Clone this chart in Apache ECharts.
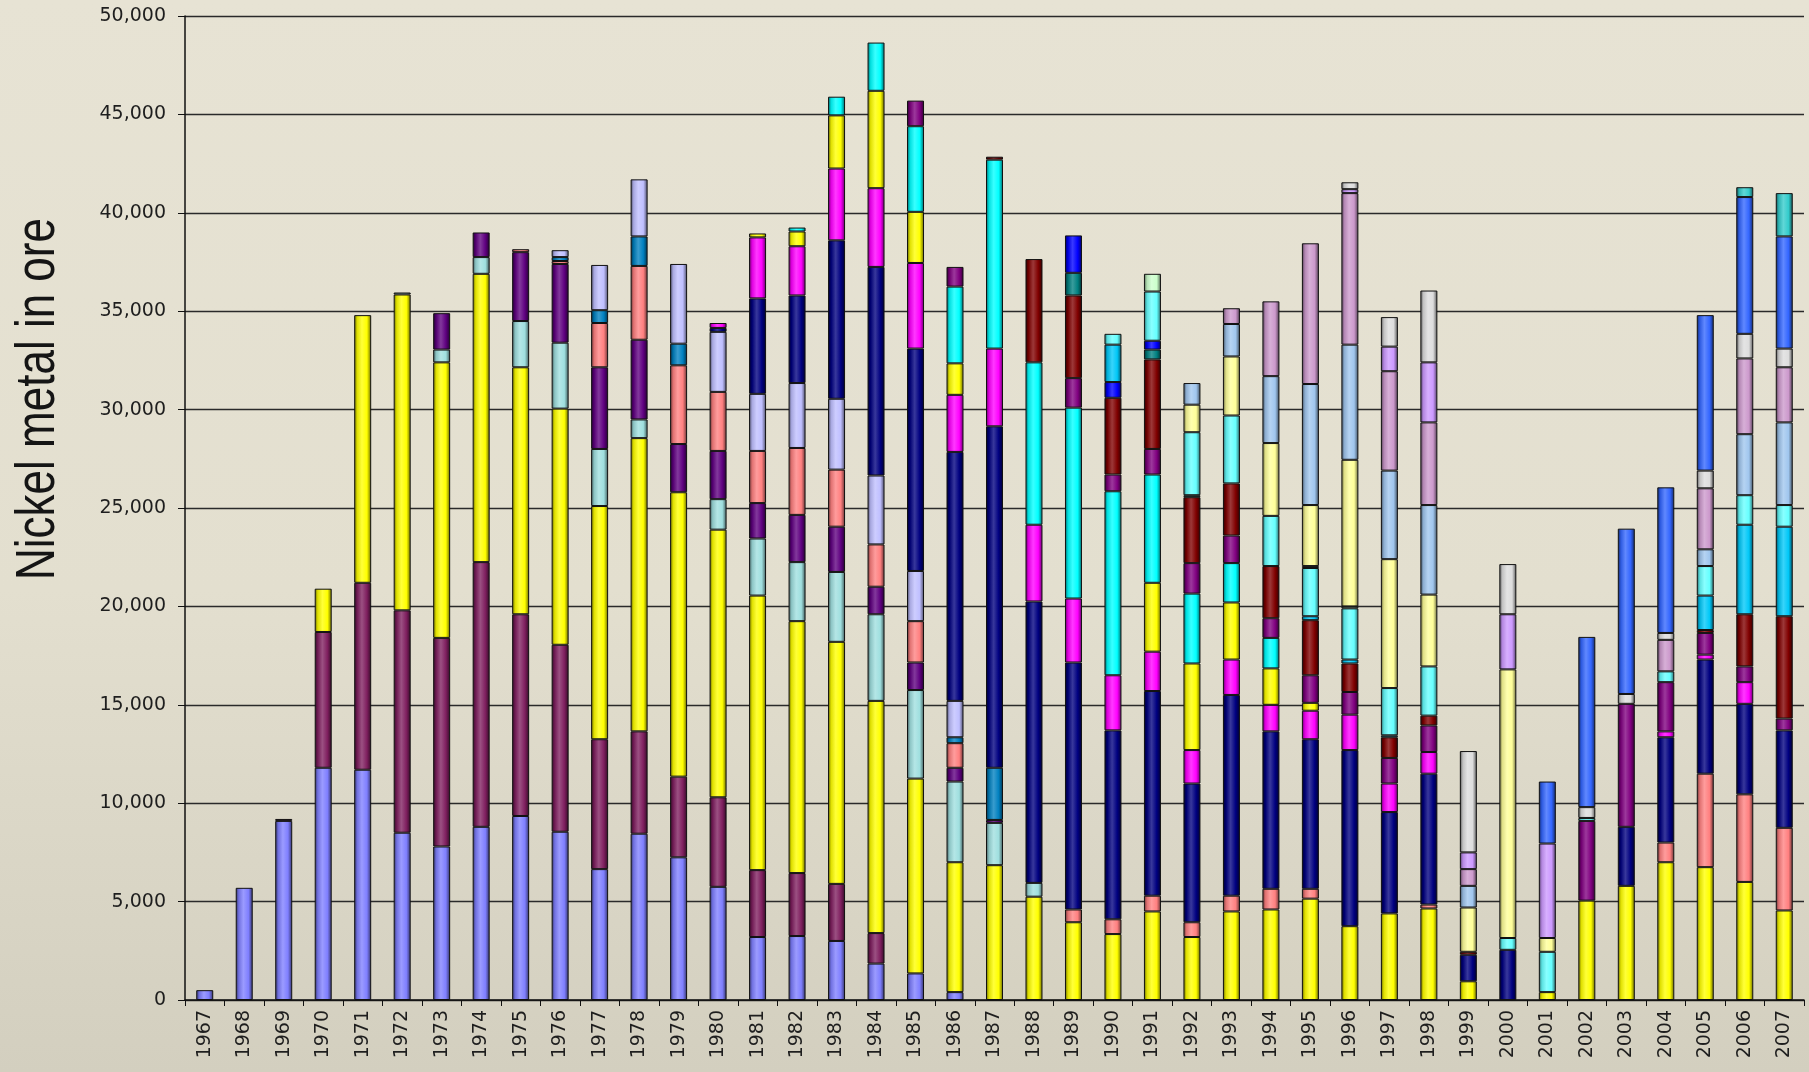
<!DOCTYPE html>
<html>
<head>
<meta charset="utf-8">
<script src="https://cdn.jsdelivr.net/npm/echarts@6/dist/echarts.min.js"></script>
<style>
  html, body { margin: 0; padding: 0; }
  #main {
    width: 1809px;
    height: 1072px;
    background: linear-gradient(to bottom, #e7e3d4 0%, #e3dfcf 55%, #d3cfbf 100%);
  }
</style>
</head>
<body>
<div id="main"></div>
<script>
const years = ['1967', '1968', '1969', '1970', '1971', '1972', '1973', '1974', '1975', '1976',
  '1977', '1978', '1979', '1980', '1981', '1982', '1983', '1984', '1985', '1986',
  '1987', '1988', '1989', '1990', '1991', '1992', '1993', '1994', '1995', '1996',
  '1997', '1998', '1999', '2000', '2001', '2002', '2003', '2004', '2005', '2006',
  '2007']

// stacked layers, bottom to top (one value per year)
const periwinkle = [500, 5700, 9100, 11800, 11700, 8500, 7800, 8800, 9350, 8550,
  6650, 8450, 7250, 5750, 3200, 3250, 3000, 1850, 1350, 400,
  0, 0, 0, 0, 0, 0, 0, 0, 0, 0,
  0, 0, 0, 0, 0, 0, 0, 0, 0, 0,
  0]
const plum = [0, 0, 100, 6900, 9500, 11300, 10600, 13450, 10250, 9500,
  6600, 5200, 4100, 4550, 3400, 3200, 2900, 1550, 0, 0,
  0, 0, 0, 0, 0, 0, 0, 0, 0, 0,
  0, 0, 0, 0, 0, 0, 0, 0, 0, 0,
  0]
const yellow = [0, 0, 0, 2200, 13600, 16050, 14000, 14650, 12550, 12000,
  11850, 14900, 14450, 13600, 13950, 12800, 12300, 11800, 9900, 6600,
  6850, 5250, 3950, 3350, 4500, 3200, 4500, 4600, 5150, 3750,
  4400, 4650, 950, 0, 400, 5050, 5800, 7000, 6750, 6000,
  4550]
const paleTeal = [0, 0, 0, 0, 0, 100, 650, 850, 2350, 3350,
  2900, 950, 0, 1550, 2900, 3000, 3550, 4400, 4500, 4100,
  2150, 700, 0, 0, 0, 0, 0, 0, 0, 0,
  0, 0, 0, 0, 0, 0, 0, 0, 0, 0,
  0]
const darkViolet = [0, 0, 0, 0, 0, 0, 1850, 1250, 3500, 4000,
  4150, 4050, 2450, 2450, 1800, 2400, 2300, 1400, 1400, 700,
  150, 0, 0, 0, 0, 0, 0, 0, 0, 0,
  0, 0, 0, 0, 0, 0, 0, 0, 0, 0,
  0]
const salmon = [0, 0, 0, 0, 0, 0, 0, 0, 150, 150,
  2250, 3750, 4000, 3000, 2650, 3400, 2900, 2150, 2100, 1250,
  0, 0, 650, 750, 800, 750, 800, 1050, 500, 0,
  0, 200, 0, 0, 0, 0, 0, 1000, 4750, 4450,
  4200]
const steel = [0, 0, 0, 0, 0, 0, 0, 0, 0, 200,
  650, 1500, 1100, 0, 0, 0, 0, 0, 0, 300,
  2650, 0, 0, 0, 0, 0, 0, 0, 0, 0,
  0, 0, 0, 0, 0, 0, 0, 0, 0, 0,
  0]
const lavender = [0, 0, 0, 0, 0, 0, 0, 0, 0, 350,
  2300, 2900, 4050, 3050, 2900, 3300, 3600, 3500, 2550, 1850,
  0, 0, 0, 0, 0, 0, 0, 0, 0, 0,
  0, 0, 0, 0, 0, 0, 0, 0, 0, 0,
  0]
const navy = [0, 0, 0, 0, 0, 0, 0, 0, 0, 0,
  0, 0, 0, 200, 4850, 4450, 8050, 10600, 11300, 12650,
  17350, 14300, 12550, 9600, 10400, 7050, 10200, 8000, 7600, 8950,
  5150, 6650, 1350, 2550, 0, 0, 3000, 5350, 5800, 4600,
  4950]
const magenta = [0, 0, 0, 0, 0, 0, 0, 0, 0, 0,
  0, 0, 0, 250, 3100, 2500, 3650, 4000, 4350, 2900,
  3950, 3900, 3250, 2800, 2000, 1700, 1800, 1350, 1450, 1800,
  1450, 1100, 0, 0, 0, 0, 0, 300, 250, 1100,
  0]
const yellow2 = [0, 0, 0, 0, 0, 0, 0, 0, 0, 0,
  0, 0, 0, 0, 200, 750, 2700, 4950, 2600, 1600,
  0, 0, 0, 0, 3500, 4400, 2900, 1850, 400, 0,
  0, 0, 0, 0, 0, 0, 0, 0, 0, 0,
  0]
const cyan = [0, 0, 0, 0, 0, 0, 0, 0, 0, 0,
  0, 0, 0, 0, 0, 200, 950, 2450, 4350, 3900,
  9600, 8250, 9700, 9350, 5500, 3550, 2000, 1550, 0, 0,
  0, 0, 0, 0, 0, 0, 0, 0, 0, 0,
  0]
const purple = [0, 0, 0, 0, 0, 0, 0, 0, 0, 0,
  0, 0, 0, 0, 0, 0, 0, 0, 1300, 1000,
  0, 0, 1500, 850, 1300, 1550, 1400, 1000, 1400, 1150,
  1300, 1350, 0, 0, 0, 4050, 6250, 2500, 1100, 800,
  600]
const maroon = [0, 0, 0, 0, 0, 0, 0, 0, 0, 0,
  0, 0, 0, 0, 0, 0, 0, 0, 0, 0,
  150, 5250, 4200, 3900, 4550, 3350, 2650, 2650, 2800, 1450,
  1050, 500, 150, 0, 0, 0, 0, 0, 150, 2650,
  5200]
const teal = [0, 0, 0, 0, 0, 0, 0, 0, 0, 0,
  0, 0, 0, 0, 0, 0, 0, 0, 0, 0,
  0, 0, 1150, 0, 500, 100, 0, 0, 0, 0,
  0, 0, 0, 0, 0, 0, 0, 0, 0, 0,
  0]
const blue = [0, 0, 0, 0, 0, 0, 0, 0, 0, 0,
  0, 0, 0, 0, 0, 0, 0, 0, 0, 0,
  0, 0, 1900, 800, 450, 0, 0, 0, 0, 0,
  0, 0, 0, 0, 0, 0, 0, 0, 0, 0,
  0]
const sky = [0, 0, 0, 0, 0, 0, 0, 0, 0, 0,
  0, 0, 0, 0, 0, 0, 0, 0, 0, 0,
  0, 0, 0, 1900, 0, 0, 0, 0, 200, 200,
  100, 0, 0, 0, 0, 0, 0, 0, 1750, 4550,
  4550]
const lightCyan = [0, 0, 0, 0, 0, 0, 0, 0, 0, 0,
  0, 0, 0, 0, 0, 0, 0, 0, 0, 0,
  0, 0, 0, 550, 2500, 3200, 3450, 2550, 2450, 2600,
  2400, 2500, 0, 600, 2050, 150, 0, 550, 1500, 1500,
  1100]
const paleGreen = [0, 0, 0, 0, 0, 0, 0, 0, 0, 0,
  0, 0, 0, 0, 0, 0, 0, 0, 0, 0,
  0, 0, 0, 0, 900, 0, 0, 0, 100, 100,
  0, 0, 0, 0, 0, 0, 0, 0, 0, 0,
  0]
const paleYellow = [0, 0, 0, 0, 0, 0, 0, 0, 0, 0,
  0, 0, 0, 0, 0, 0, 0, 0, 0, 0,
  0, 0, 0, 0, 0, 1400, 3000, 3700, 3100, 7450,
  6550, 3650, 2250, 13650, 700, 0, 0, 0, 0, 0,
  0]
const lightSteel = [0, 0, 0, 0, 0, 0, 0, 0, 0, 0,
  0, 0, 0, 0, 0, 0, 0, 0, 0, 0,
  0, 0, 0, 0, 0, 1100, 1650, 3400, 6150, 5850,
  4500, 4550, 1100, 0, 0, 0, 0, 0, 850, 3100,
  4200]
const mauve = [0, 0, 0, 0, 0, 0, 0, 0, 0, 0,
  0, 0, 0, 0, 0, 0, 0, 0, 0, 0,
  0, 0, 0, 0, 0, 0, 800, 3800, 7150, 7700,
  5050, 4200, 850, 0, 0, 0, 0, 1600, 3100, 3850,
  2800]
const lilac = [0, 0, 0, 0, 0, 0, 0, 0, 0, 0,
  0, 0, 0, 0, 0, 0, 0, 0, 0, 0,
  0, 0, 0, 0, 0, 0, 0, 0, 0, 200,
  1250, 3050, 850, 2800, 4800, 0, 0, 0, 0, 0,
  0]
const silver = [0, 0, 0, 0, 0, 0, 0, 0, 0, 0,
  0, 0, 0, 0, 0, 0, 0, 0, 0, 0,
  0, 0, 0, 0, 0, 0, 0, 0, 0, 350,
  1500, 3650, 5150, 2550, 0, 550, 500, 350, 900, 1250,
  950]
const royal = [0, 0, 0, 0, 0, 0, 0, 0, 0, 0,
  0, 0, 0, 0, 0, 0, 0, 0, 0, 0,
  0, 0, 0, 0, 0, 0, 0, 0, 0, 0,
  0, 0, 0, 0, 3150, 8650, 8400, 7400, 7900, 6950,
  5700]
const turquoise = [0, 0, 0, 0, 0, 0, 0, 0, 0, 0,
  0, 0, 0, 0, 0, 0, 0, 0, 0, 0,
  0, 0, 0, 0, 0, 0, 0, 0, 0, 0,
  0, 0, 0, 0, 0, 0, 0, 0, 0, 500,
  2200]

const layers = [
  [periwinkle, '#7f7fff'], [plum, '#7f1f5f'], [yellow, '#ffff00'], [paleTeal, '#9fdfdf'],
  [darkViolet, '#5f0080'], [salmon, '#ff8080'], [steel, '#0080c0'], [lavender, '#bfbfff'],
  [navy, '#000080'], [magenta, '#ff00ff'], [yellow2, '#ffff00'], [cyan, '#00ffff'],
  [purple, '#800080'], [maroon, '#800000'], [teal, '#008080'], [blue, '#0000ff'],
  [sky, '#00c8f8'], [lightCyan, '#66ffff'], [paleGreen, '#ccffcc'], [paleYellow, '#ffff99'],
  [lightSteel, '#a0c6ee'], [mauve, '#cc99cc'], [lilac, '#cc99ff'], [silver, '#dddddd'],
  [royal, '#3366ff'], [turquoise, '#33cccc'],
]

function rgb (hex) {
  return [1, 3, 5].map(i => parseInt(hex.substr(i, 2), 16))
}
function mix (hex, target, t) {
  let c = rgb(hex)
  let out = c.map(v => Math.round(v + (target - v) * t))
  return 'rgb(' + out.join(',') + ')'
}
// cylinder-like shading across each bar
function shaded (hex) {
  return {
    type: 'linear', x: 0, y: 0, x2: 1, y2: 0,
    colorStops: [
      { offset: 0, color: mix(hex, 0, 0.6) },
      { offset: 0.18, color: mix(hex, 0, 0.12) },
      { offset: 0.45, color: mix(hex, 255, 0.22) },
      { offset: 0.75, color: hex },
      { offset: 1, color: mix(hex, 0, 0.6) },
    ],
  }
}

let chart = echarts.init(document.getElementById('main'))
chart.setOption({
  animation: false,
  grid: { left: 185, right: 5, top: 16, bottom: 72 },
  graphic: [{
    type: 'text',
    x: 38,
    y: 399,
    rotation: Math.PI / 2,
    scaleX: 1,
    scaleY: 1.28,
    style: {
      text: 'Nickel metal in ore',
      font: '44px "Liberation Sans"',
      fill: '#151515',
      textAlign: 'center',
      textVerticalAlign: 'middle',
      align: 'center',
      verticalAlign: 'middle',
    },
  }],
  xAxis: {
    type: 'category',
    data: years,
    axisLine: { lineStyle: { color: '#111', width: 1.5 } },
    axisTick: { show: true, length: 6, interval: 0, lineStyle: { color: '#111' } },
    axisLabel: {
      interval: 0,
      rotate: 90,
      margin: 10,
      color: '#1e1e1e',
      fontFamily: 'DejaVu Sans',
      fontSize: 19,
    },
  },
  yAxis: {
    type: 'value',
    min: 0,
    max: 50000,
    interval: 5000,
    axisLine: { show: true, lineStyle: { color: '#111', width: 1.5 } },
    axisTick: { show: true, length: 7, lineStyle: { color: '#111' } },
    axisLabel: {
      margin: 19,
      color: '#1e1e1e',
      fontFamily: 'DejaVu Sans',
      fontSize: 19,
      formatter: v => v.toLocaleString('en-US'),
    },
    splitLine: { lineStyle: { color: '#2a2a2a', width: 1.3 } },
  },
  series: layers.map(([values, color], i) => ({
    name: 'layer' + (i + 1),
    type: 'bar',
    stack: 'nickel',
    barWidth: 17,
    data: values.map(v => v || '-'),
    itemStyle: {
      color: shaded(color),
      borderColor: '#111',
      borderWidth: 1,
    },
  })),
})
</script>
</body>
</html>
